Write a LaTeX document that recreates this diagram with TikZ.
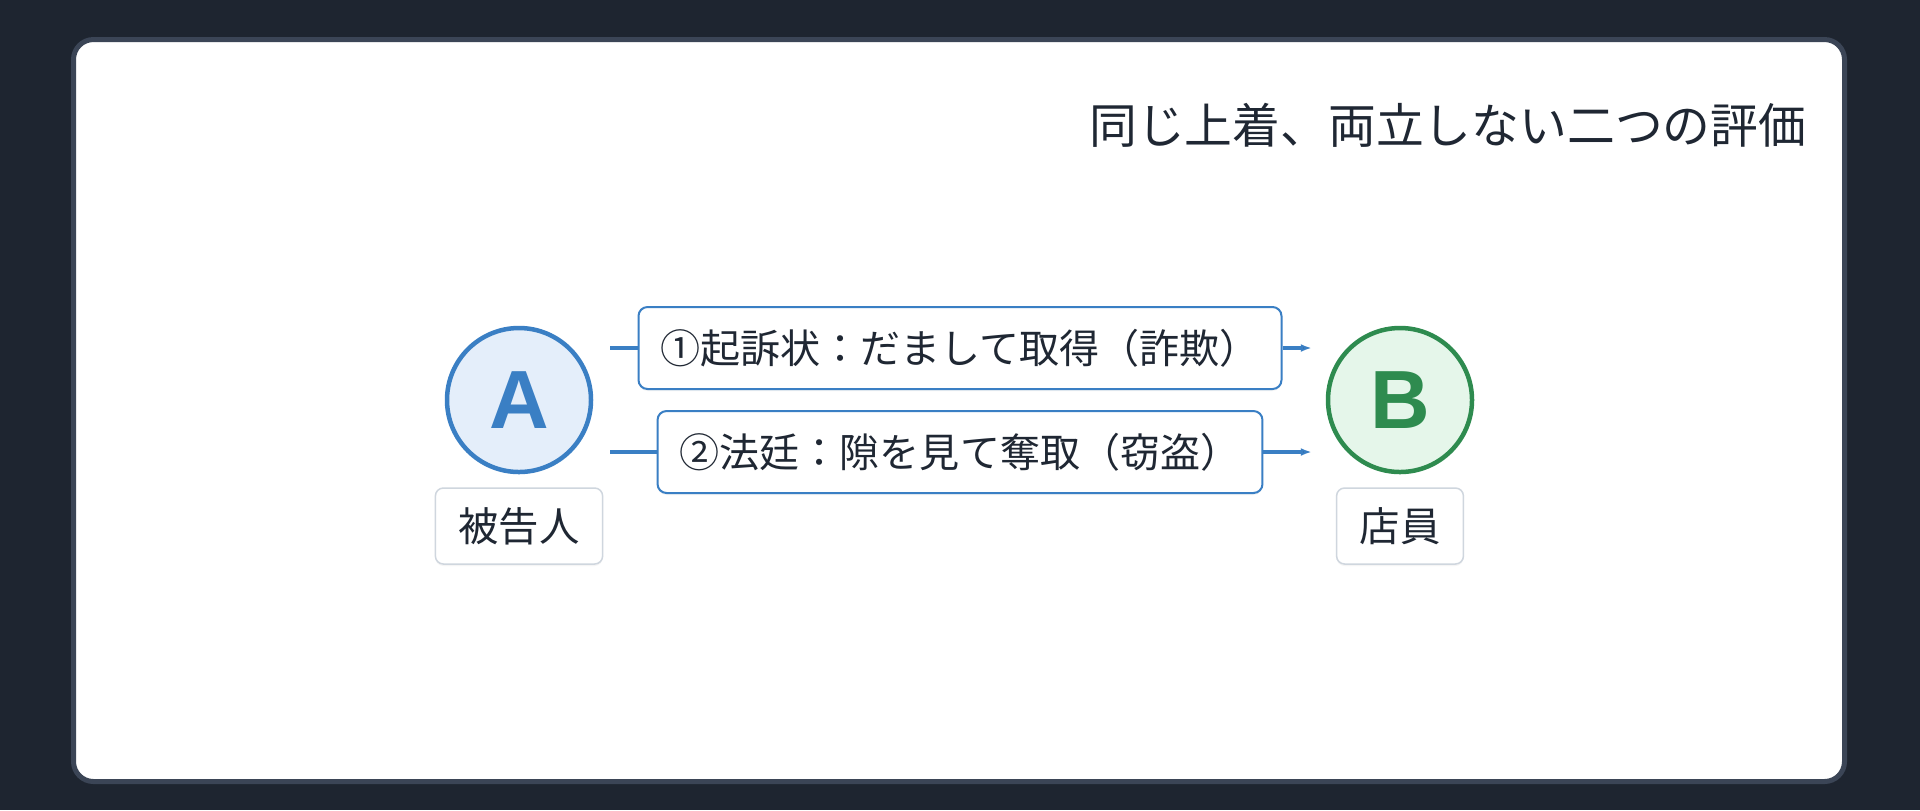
\documentclass[tikz,border=0pt]{standalone}
\usepackage{fontspec}
\setmainfont{Noto Sans CJK JP}
\newfontfamily\letterfont{Liberation Sans}
\usepackage{tikz}
\usetikzlibrary{arrows.meta}
\usetikzlibrary{positioning,shapes,shadows}
\usepackage{xcolor}
\definecolor{backdrop}{HTML}{1E2530}
\definecolor{panelrim}{HTML}{3B4556}
\definecolor{ink}{HTML}{1F2733}
\definecolor{accblue}{HTML}{3A7FC4}
\definecolor{accbluefill}{HTML}{E4EEFA}
\definecolor{accgreen}{HTML}{2E8B4F}
\definecolor{accgreenfill}{HTML}{E5F6EA}
\definecolor{rolerim}{HTML}{CFD6DE}

\begin{document}
\begin{tikzpicture}[%
        every node/.style={inner sep=0pt, text=ink},
        party/.style={circle, minimum size=1.44cm, line width=0.045cm, font=\letterfont\bfseries\fontsize{23.5pt}{23.5pt}\selectfont},
        rolebox/.style={rectangle, rounded corners=0.08cm, draw=rolerim, line width=0.015cm, fill=white, minimum height=0.76cm, inner xsep=0.23cm, font=\fontsize{11.5pt}{12pt}\selectfont, drop shadow={shadow xshift=0pt, shadow yshift=-0.02cm, opacity=0.08}},
        actbox/.style={rectangle, rounded corners=0.09cm, draw=accblue, line width=0.02cm, fill=white, minimum height=0.82cm, inner xsep=0.22cm, font=\fontsize{11.4pt}{12pt}\selectfont, drop shadow={shadow xshift=0pt, shadow yshift=-0.02cm, opacity=0.08}},
        act/.style={draw=accblue, line width=0.035cm},
        node distance=0.13cm, >={Latex[length=0.11cm,width=0.08cm]}
      ]
      \fill [backdrop] (0,0) rectangle (19.2,-8.1);
      \draw [panelrim, fill=white, line width=0.05cm, rounded corners=0.2cm] (0.735,-0.395) rectangle (18.445,-7.815);
      \node [anchor=east, font=\fontsize{13.6pt}{15pt}\selectfont] (title) at (18.07,-1.25) {同じ上着、両立しない二つの評価};
      \node [party, draw=accblue, fill=accbluefill, text=accblue] (A) at (5.19,-4.00) {A};
      \node [party, draw=accgreen, fill=accgreenfill, text=accgreen] (B) at (14.00,-4.00) {B};
      \node [rolebox, below=of A] (Arole) {被告人};
      \node [rolebox, below=of B] (Brole) {店員};
      \node [actbox] (fraud) at (9.60,-3.48) {①起訴状：だまして取得（詐欺）};
      \node [actbox] (theft) at (9.60,-4.52) {②法廷：隙を見て奪取（窃盗）};
      \path [act] (A.east |- fraud) edge[shorten <=0.17cm] (fraud.west)
      (fraud.east) edge[->, shorten >=0.14cm] (B.west |- fraud)
      (A.east |- theft) edge[shorten <=0.17cm] (theft.west)
      (theft.east) edge[->, shorten >=0.14cm] (B.west |- theft);
    \end{tikzpicture}
\end{document}
